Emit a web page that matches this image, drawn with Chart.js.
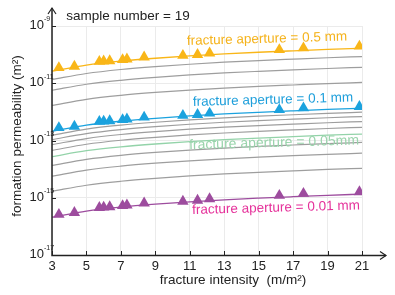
<!DOCTYPE html>
<html>
<head>
<meta charset="utf-8">
<script src="https://cdn.jsdelivr.net/npm/chart.js@4.4.0/dist/chart.umd.min.js"></script>
<style>
html,body{margin:0;padding:0;background:#fff;}
#wrap{width:395px;height:295px;}
</style>
</head>
<body>
<div id="wrap"><canvas id="c" width="395" height="295"></canvas></div>
<script>
// ---- data ----
const xTicks = [3, 5, 7, 9, 11, 13, 15, 17, 19, 21];
const yTickExponents = [-9, -11, -13, -15, -17];
const sampleCount = 19;

// x positions of the fitted curves
const curveX = [3, 5, 7, 9, 11, 13, 15, 17, 19, 21];
// permeability (m^2) along each aperture curve
const k050 = [2.63e-11, 4.28e-11, 5.89e-11, 7.46e-11, 9.03e-11, 1.06e-10, 1.21e-10, 1.36e-10, 1.52e-10, 1.67e-10];
const k040 = [1.35e-11, 2.19e-11, 3.02e-11, 3.82e-11, 4.62e-11, 5.43e-11, 6.20e-11, 6.96e-11, 7.78e-11, 8.55e-11];
const k030 = [5.68e-12, 9.24e-12, 1.27e-11, 1.61e-11, 1.95e-11, 2.29e-11, 2.61e-11, 2.94e-11, 3.28e-11, 3.61e-11];
const k020 = [1.68e-12, 2.74e-12, 3.77e-12, 4.77e-12, 5.78e-12, 6.78e-12, 7.74e-12, 8.70e-12, 9.73e-12, 1.07e-11];
const k010 = [2.10e-13, 3.42e-13, 4.71e-13, 5.97e-13, 7.22e-13, 8.48e-13, 9.68e-13, 1.09e-12, 1.22e-12, 1.34e-12];
const k009 = [1.53e-13, 2.50e-13, 3.44e-13, 4.35e-13, 5.27e-13, 6.18e-13, 7.06e-13, 7.93e-13, 8.86e-13, 9.74e-13];
const k008 = [1.08e-13, 1.75e-13, 2.41e-13, 3.06e-13, 3.70e-13, 4.34e-13, 4.96e-13, 5.57e-13, 6.23e-13, 6.84e-13];
const k007 = [7.22e-14, 1.17e-13, 1.62e-13, 2.05e-13, 2.48e-13, 2.91e-13, 3.32e-13, 3.73e-13, 4.17e-13, 4.58e-13];
const k006 = [4.54e-14, 7.40e-14, 1.02e-13, 1.29e-13, 1.56e-13, 1.83e-13, 2.09e-13, 2.35e-13, 2.63e-13, 2.89e-13];
const k005 = [2.75e-14, 4.40e-14, 6.00e-14, 7.55e-14, 9.10e-14, 1.07e-13, 1.22e-13, 1.37e-13, 1.53e-13, 1.68e-13];
const k004 = [1.35e-14, 2.19e-14, 3.02e-14, 3.82e-14, 4.62e-14, 5.43e-14, 6.20e-14, 6.96e-14, 7.78e-14, 8.55e-14];
const k003 = [5.68e-15, 9.24e-15, 1.27e-14, 1.61e-14, 1.95e-14, 2.29e-14, 2.61e-14, 2.94e-14, 3.28e-14, 3.61e-14];
const k002 = [1.68e-15, 2.74e-15, 3.77e-15, 4.77e-15, 5.78e-15, 6.78e-15, 7.74e-15, 8.70e-15, 9.73e-15, 1.07e-14];
const k001 = [2.10e-16, 3.42e-16, 4.71e-16, 5.97e-16, 7.22e-16, 8.48e-16, 9.68e-16, 1.09e-15, 1.22e-15, 1.34e-15];

// sample points (fracture intensity) and their permeabilities
const sampleX = [3.4, 4.3, 5.75, 6.0, 6.35, 7.1, 7.35, 8.35, 10.6, 11.45, 12.15, 16.2, 17.6, 20.85];
const sampleK050 = [3.47e-11, 3.89e-11, 5.75e-11, 5.89e-11, 6.03e-11, 6.61e-11, 6.92e-11, 8.13e-11, 9.33e-11, 1.00e-10, 1.12e-10, 1.48e-10, 1.70e-10, 1.95e-10];
const sampleK010 = [2.78e-13, 3.11e-13, 4.60e-13, 4.71e-13, 4.82e-13, 5.29e-13, 5.54e-13, 6.50e-13, 7.46e-13, 8.00e-13, 8.96e-13, 1.18e-12, 1.36e-12, 1.52e-12];
const sampleK001 = [2.60e-16, 3.00e-16, 4.50e-16, 4.65e-16, 4.80e-16, 5.25e-16, 5.50e-16, 6.50e-16, 7.50e-16, 8.10e-16, 9.10e-16, 1.20e-15, 1.40e-15, 1.60e-15];

// ---- build datasets ----
const pts = (xs, ys) => xs.map((x, i) => ({x: x, y: ys[i]}));
const GRAY = '#9e9e9e';
const ORANGE = '#F9B618';
const BLUE = '#1BA2DE';
const GREEN = '#93D3A9';
const PURPLE = '#9D4C9E';

function curve(ys, color, w) {
  return {type: 'line', data: pts(curveX, ys), borderColor: color, borderWidth: w,
          pointRadius: 0, cubicInterpolationMode: 'monotone', fill: false};
}
function samples(ys, color) {
  return {type: 'scatter', data: pts(sampleX, ys), backgroundColor: color, borderColor: color,
          borderWidth: 0, pointStyle: 'triangle', pointRadius: 6.6, showLine: false};
}

const datasets = [
  samples(sampleK050, ORANGE),
  samples(sampleK010, BLUE),
  samples(sampleK001, PURPLE),
  curve(k050, ORANGE, 1.3),
  curve(k010, BLUE, 1.3),
  curve(k005, GREEN, 1.3),
  curve(k001, PURPLE, 1.3),
  curve(k040, GRAY, 1.2),
  curve(k030, GRAY, 1.2),
  curve(k020, GRAY, 1.2),
  curve(k009, GRAY, 1.2),
  curve(k008, GRAY, 1.2),
  curve(k007, GRAY, 1.2),
  curve(k006, GRAY, 1.2),
  curve(k004, GRAY, 1.2),
  curve(k003, GRAY, 1.2),
  curve(k002, GRAY, 1.2)
];

const FONT = '"Liberation Sans", Arial, sans-serif';

const decor = {
  id: 'decor',
  afterDraw(chart) {
    const ctx = chart.ctx;
    const xs = chart.scales.x, ys = chart.scales.y;
    const ca = chart.chartArea;
    const x0 = ca.left, y0 = ca.bottom;
    ctx.save();
    // axes
    ctx.strokeStyle = '#222';
    ctx.lineWidth = 1.5;
    ctx.beginPath();
    ctx.moveTo(x0, y0 + 0.5); ctx.lineTo(x0, 8);
    ctx.moveTo(x0 - 0.75, y0 + 0.5); ctx.lineTo(386, y0 + 0.5);
    ctx.stroke();
    ctx.lineWidth = 1.2;
    ctx.beginPath();
    ctx.moveTo(x0 - 4, 14); ctx.lineTo(x0, 8); ctx.lineTo(x0 + 4, 14);
    ctx.moveTo(380, y0 - 3.5); ctx.lineTo(386, y0 + 0.5); ctx.lineTo(380, y0 + 4.5);
    ctx.stroke();
    // tick marks
    ctx.lineWidth = 1;
    ctx.beginPath();
    xTicks.forEach(v => {
      const p = Math.round(xs.getPixelForValue(v)) + 0.5;
      ctx.moveTo(p, y0); ctx.lineTo(p, y0 - 4);
    });
    yTickExponents.forEach(e => {
      const p = Math.round(ys.getPixelForValue(Math.pow(10, e))) + 0.5;
      ctx.moveTo(x0, p); ctx.lineTo(x0 + 4, p);
    });
    ctx.stroke();
    // x tick labels
    ctx.fillStyle = '#222';
    ctx.font = '13px ' + FONT;
    ctx.textAlign = 'center';
    ctx.textBaseline = 'middle';
    xTicks.forEach(v => ctx.fillText(String(v), xs.getPixelForValue(v), 266.5));
    // y tick labels 10^e
    yTickExponents.forEach(e => {
      const p = ys.getPixelForValue(Math.pow(10, e));
      ctx.font = '13px ' + FONT;
      ctx.textAlign = 'left';
      ctx.fillText('10', 29.5, p - 0.5);
      ctx.font = '7px ' + FONT;
      ctx.fillText(String(e), 44, p - 6.5);
    });
    // titles
    ctx.font = '13.5px ' + FONT;
    ctx.textAlign = 'center';
    ctx.fillText('sample number = ' + sampleCount, 128, 16);
    ctx.fillText('fracture intensity  (m/m\u00B2)', 233, 280);
    ctx.save();
    ctx.translate(17, 136);
    ctx.rotate(-Math.PI / 2);
    ctx.fillText('formation permeability (m\u00B2)', 0, 0);
    ctx.restore();
    // curve labels
    function lab(t, cx, cy, col, size) {
      ctx.save();
      ctx.translate(cx, cy);
      ctx.rotate(-0.028);
      ctx.font = size + 'px ' + FONT;
      ctx.fillStyle = col;
      ctx.textAlign = 'center';
      ctx.textBaseline = 'middle';
      ctx.fillText(t, 0, 0);
      ctx.restore();
    }
    lab('fracture aperture = 0.5 mm', 267, 39, '#F5B31C', 13.5);
    lab('fracture aperture = 0.1 mm', 273, 100, '#1E9FDB', 13.5);
    lab('fracture aperture = 0.05mm', 274, 143, '#9AD4AC', 14);
    lab('fracture aperture = 0.01 mm', 276, 208, '#E5319A', 13.5);
    ctx.restore();
  }
};

new Chart(document.getElementById('c'), {
  type: 'line',
  data: {datasets: datasets},
  options: {
    responsive: false,
    animation: false,
    layout: {padding: {left: 52, right: 33, top: 26, bottom: 40}},
    plugins: {legend: {display: false}, tooltip: {enabled: false}},
    scales: {
      x: {
        type: 'linear', min: 3, max: 21,
        afterBuildTicks: s => { s.ticks = xTicks.map(v => ({value: v})); },
        ticks: {display: false},
        grid: {color: '#ebebeb', lineWidth: 1, drawTicks: false},
        border: {display: false}
      },
      y: {
        type: 'logarithmic', min: 1e-17, max: 1e-9,
        afterBuildTicks: s => { s.ticks = yTickExponents.map(e => ({value: Math.pow(10, e)})); },
        ticks: {display: false},
        grid: {color: '#ebebeb', lineWidth: 1, drawTicks: false},
        border: {display: false}
      }
    }
  },
  plugins: [decor]
});
</script>
</body>
</html>
